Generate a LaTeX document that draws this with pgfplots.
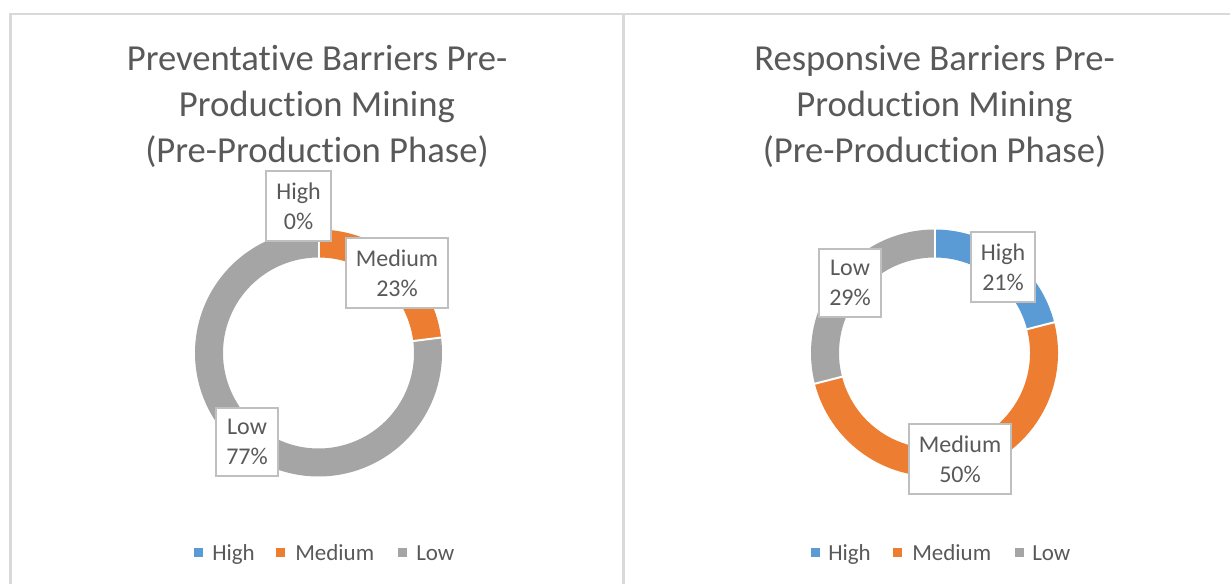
\documentclass[border=0pt]{standalone}
\usepackage{fontspec}
\setmainfont{Carlito}[Ligatures=NoCommon]
\usepackage{pgfplots}
\pgfplotsset{compat=1.18}
\usepackage{pgfplotstable}
\definecolor{cHigh}{HTML}{5B9BD5}
\definecolor{cMed}{HTML}{ED7D31}
\definecolor{cLow}{HTML}{A5A5A5}
\definecolor{ctext}{HTML}{595959}
\definecolor{cborder}{HTML}{D9D9D9}
\definecolor{cbox}{HTML}{BFBFBF}

% percentages (High, Medium, Low)
\pgfplotstableread{
cat pct
High 0
Medium 23
Low 77
}\prevdata
\pgfplotstableread{
cat pct
High 21
Medium 50
Low 29
}\respdata

\pgfplotstablegetelem{0}{pct}\of\prevdata \let\pH\pgfplotsretval
\pgfplotstablegetelem{1}{pct}\of\prevdata \let\pM\pgfplotsretval
\pgfplotstablegetelem{0}{pct}\of\respdata \let\rH\pgfplotsretval
\pgfplotstablegetelem{1}{pct}\of\respdata \let\rM\pgfplotsretval

\pgfmathsetmacro{\pA}{90-3.6*\pH}
\pgfmathsetmacro{\pB}{90-3.6*(\pH+\pM)}
\pgfmathsetmacro{\rA}{90-3.6*\rH}
\pgfmathsetmacro{\rB}{90-3.6*(\rH+\rM)}

\tikzset{
  lbl/.style={draw=cbox, line width=1.5pt, fill=white, text=ctext, align=center,
    font=\fontsize{18}{22.5}\selectfont, inner xsep=7.5pt, inner ysep=8.5pt},
  ttl/.style={text=ctext, align=center, font=\fontsize{27.5}{34.5}\selectfont},
  leg/.style={text=ctext, anchor=base west, inner sep=0pt, font=\fontsize{17.25}{20}\selectfont},
}

\begin{document}
\begin{tikzpicture}
\begin{axis}[
  width=922.5pt, height=437.25pt, scale only axis,
  xmin=0, xmax=1230, ymin=0, ymax=583,
  hide axis, clip=true,
]
% panel borders
\addplot[cborder, line width=2pt] coordinates {(10.5,-20) (10.5,569) (623.5,569) (623.5,-20)};
\addplot[cborder, line width=2pt] coordinates {(623.5,569) (1250,569)};

% left donut  (centre 318.5,230)
\addplot[cMed, line width=21pt, domain=\pB:\pA, samples=90, no markers] ({318.5+109.5*cos(x)},{230+109.5*sin(x)});
\addplot[cLow, line width=21pt, domain=-270:\pB, samples=200, no markers] ({318.5+109.5*cos(x)},{230+109.5*sin(x)});
\addplot[white, line width=1.5pt, domain=93:126, samples=2, no markers] ({318.5+x*cos(\pB)},{230+x*sin(\pB)});
\addplot[white, line width=1.5pt, domain=93:126, samples=2, no markers] ({318.5+x*cos(\pA)},{230+x*sin(\pA)});

% right donut (centre 934.5,230)
\addplot[cHigh, line width=21pt, domain=\rA:90, samples=90, no markers] ({934.5+109.5*cos(x)},{230+109.5*sin(x)});
\addplot[cMed, line width=21pt, domain=\rB:\rA, samples=150, no markers] ({934.5+109.5*cos(x)},{230+109.5*sin(x)});
\addplot[cLow, line width=21pt, domain=-270:\rB, samples=90, no markers] ({934.5+109.5*cos(x)},{230+109.5*sin(x)});
\addplot[white, line width=1.5pt, domain=93:126, samples=2, no markers] ({934.5+x*cos(90)},{230+x*sin(90)});
\addplot[white, line width=1.5pt, domain=93:126, samples=2, no markers] ({934.5+x*cos(\rA)},{230+x*sin(\rA)});
\addplot[white, line width=1.5pt, domain=93:126, samples=2, no markers] ({934.5+x*cos(\rB)},{230+x*sin(\rB)});

% legend markers
\addplot[only marks, mark=square*, mark size=3pt, cHigh] coordinates {(198,30.5) (815,30.5)};
\addplot[only marks, mark=square*, mark size=3pt, cMed] coordinates {(280.5,30.5) (897.5,30.5)};
\addplot[only marks, mark=square*, mark size=3pt, cLow] coordinates {(402,30.5) (1019,30.5)};

% titles
\node[ttl] at (axis cs:317,477) {Preventative Barriers Pre-\\Production Mining\\(Pre-Production Phase)};
\node[ttl] at (axis cs:934.5,477) {Responsive Barriers Pre-\\Production Mining\\(Pre-Production Phase)};

% data labels
\node[lbl] at (axis cs:298.5,377) {High\\0\%};
\node[lbl] at (axis cs:397,310) {Medium\\23\%};
\node[lbl] at (axis cs:247,141) {Low\\77\%};
\node[lbl] at (axis cs:1003,316) {High\\21\%};
\node[lbl] at (axis cs:850,300) {Low\\29\%};
\node[lbl] at (axis cs:960,124) {Medium\\50\%};

% legend text
\node[leg] at (axis cs:212,23) {High};
\node[leg] at (axis cs:295,23) {Medium};
\node[leg] at (axis cs:416,23) {Low};
\node[leg] at (axis cs:828,23) {High};
\node[leg] at (axis cs:912,23) {Medium};
\node[leg] at (axis cs:1032,23) {Low};
\end{axis}
\pgfresetboundingbox
\path[use as bounding box] (current axis.south west) rectangle (current axis.north east);
\end{tikzpicture}
\end{document}
